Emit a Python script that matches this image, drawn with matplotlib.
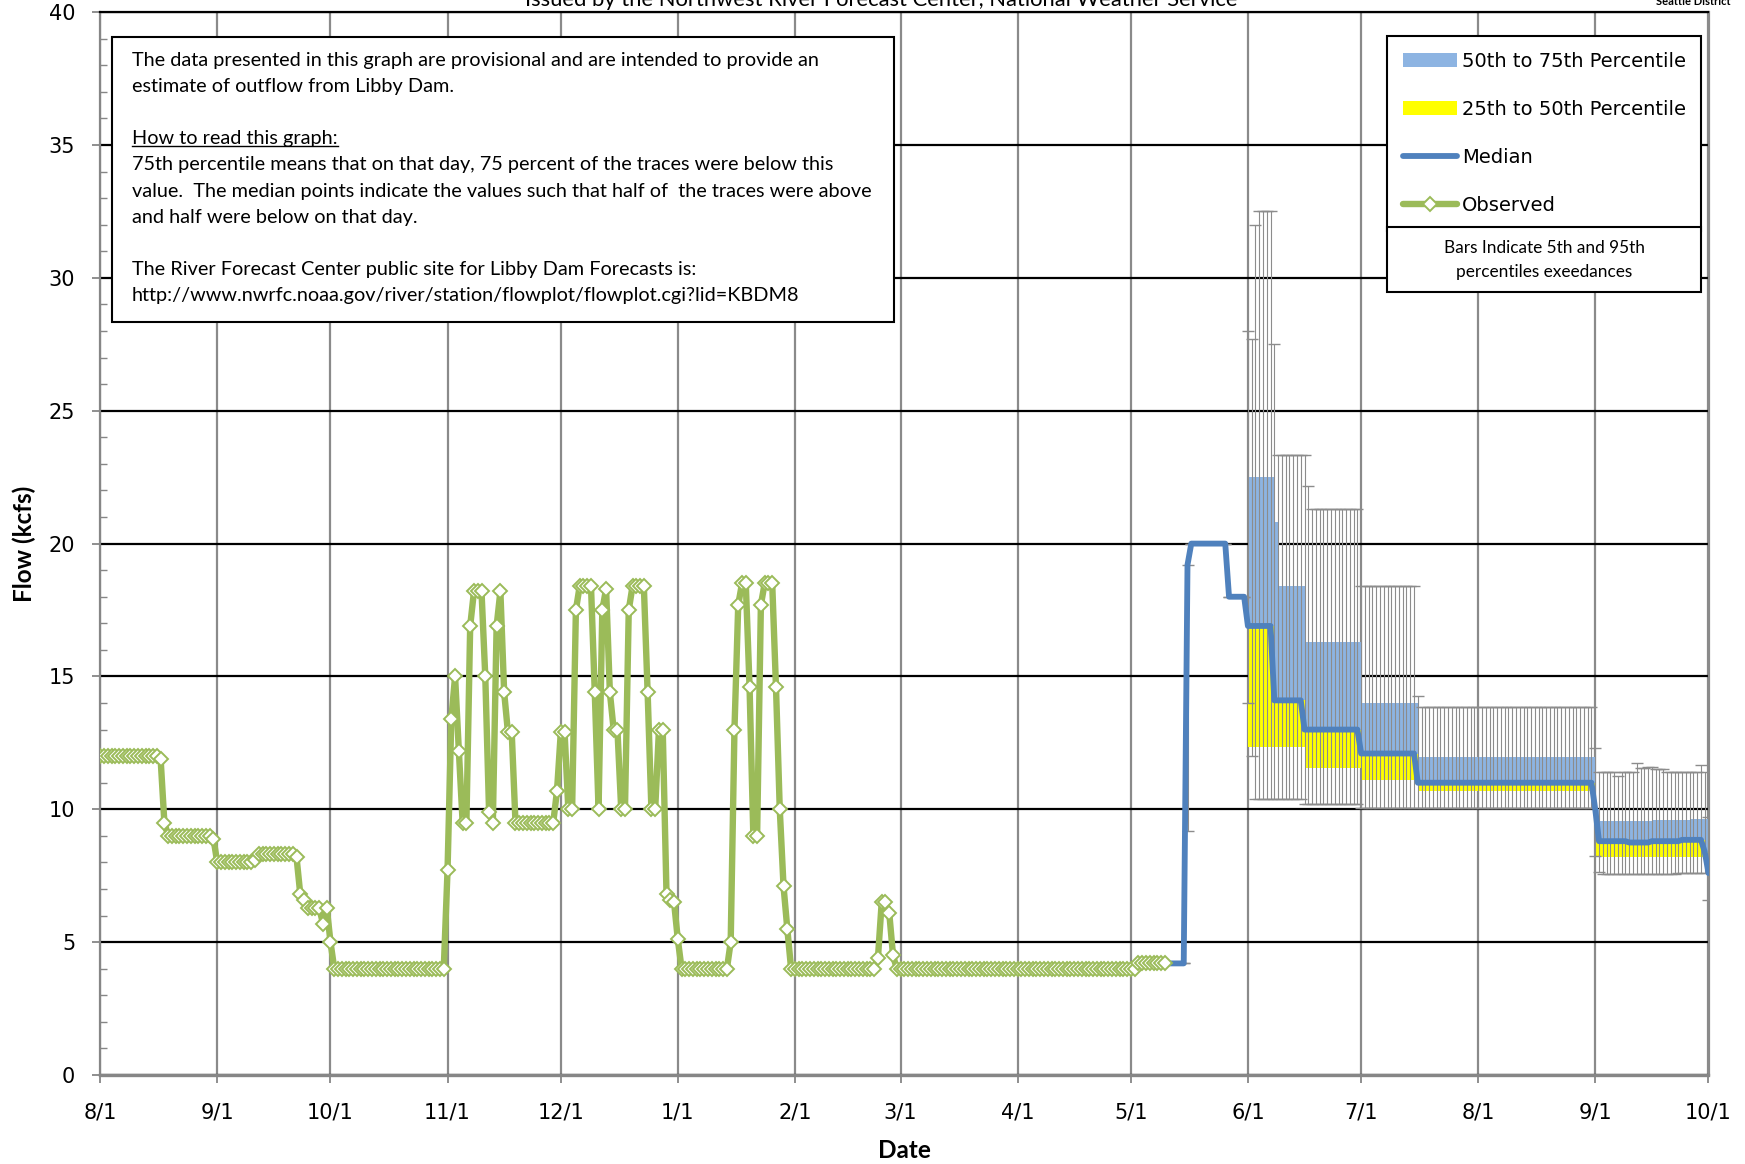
import numpy as np
import pandas as pd
import matplotlib
matplotlib.use('Agg')
import matplotlib.pyplot as plt
from matplotlib.patches import Rectangle, Patch
from matplotlib.lines import Line2D

# Observed daily outflow (kcfs), one value per day from 8/1
obs_start = '2012-08-01'
obs_flow = [
    12.0, 12.0, 12.0, 12.0, 12.0, 12.0, 12.0, 12.0, 12.0, 12.0,
    12.0, 12.0, 12.0, 12.0, 12.0, 12.0, 11.9, 9.5, 9.0, 9.0,
    9.0, 9.0, 9.0, 9.0, 9.0, 9.0, 9.0, 9.0, 9.0, 9.0,
    8.9, 8.0, 8.0, 8.0, 8.0, 8.0, 8.0, 8.0, 8.0, 8.0,
    8.0, 8.1, 8.3, 8.3, 8.3, 8.3, 8.3, 8.3, 8.3, 8.3,
    8.3, 8.3, 8.2, 6.8, 6.6, 6.3, 6.3, 6.3, 6.3, 5.7,
    6.3, 5.0, 4.0, 4.0, 4.0, 4.0, 4.0, 4.0, 4.0, 4.0,
    4.0, 4.0, 4.0, 4.0, 4.0, 4.0, 4.0, 4.0, 4.0, 4.0,
    4.0, 4.0, 4.0, 4.0, 4.0, 4.0, 4.0, 4.0, 4.0, 4.0,
    4.0, 4.0, 7.7, 13.4, 15.0, 12.2, 9.5, 9.5, 16.9, 18.2,
    18.2, 18.2, 15.0, 9.9, 9.5, 16.9, 18.2, 14.4, 12.9, 12.9,
    9.5, 9.5, 9.5, 9.5, 9.5, 9.5, 9.5, 9.5, 9.5, 9.5,
    9.5, 10.7, 12.9, 12.9, 10.0, 10.0, 17.5, 18.4, 18.4, 18.4,
    18.4, 14.4, 10.0, 17.5, 18.3, 14.4, 13.0, 13.0, 10.0, 10.0,
    17.5, 18.4, 18.4, 18.4, 18.4, 14.4, 10.0, 10.0, 13.0, 13.0,
    6.8, 6.6, 6.5, 5.1, 4.0, 4.0, 4.0, 4.0, 4.0, 4.0,
    4.0, 4.0, 4.0, 4.0, 4.0, 4.0, 4.0, 5.0, 13.0, 17.7,
    18.5, 18.5, 14.6, 9.0, 9.0, 17.7, 18.5, 18.5, 18.5, 14.6,
    10.0, 7.1, 5.5, 4.0, 4.0, 4.0, 4.0, 4.0, 4.0, 4.0,
    4.0, 4.0, 4.0, 4.0, 4.0, 4.0, 4.0, 4.0, 4.0, 4.0,
    4.0, 4.0, 4.0, 4.0, 4.0, 4.0, 4.4, 6.5, 6.5, 6.1,
    4.5, 4.0, 4.0, 4.0, 4.0, 4.0, 4.0, 4.0, 4.0, 4.0,
    4.0, 4.0, 4.0, 4.0, 4.0, 4.0, 4.0, 4.0, 4.0, 4.0,
    4.0, 4.0, 4.0, 4.0, 4.0, 4.0, 4.0, 4.0, 4.0, 4.0,
    4.0, 4.0, 4.0, 4.0, 4.0, 4.0, 4.0, 4.0, 4.0, 4.0,
    4.0, 4.0, 4.0, 4.0, 4.0, 4.0, 4.0, 4.0, 4.0, 4.0,
    4.0, 4.0, 4.0, 4.0, 4.0, 4.0, 4.0, 4.0, 4.0, 4.0,
    4.0, 4.0, 4.0, 4.0, 4.0, 4.2, 4.2, 4.2, 4.2, 4.2,
    4.2, 4.2, 4.2,
]

# Forecast percentiles, one value per day from 5/11 to 10/1
fc_start = '2013-05-11'
fc_p50 = [
    4.2, 4.2, 4.2, 4.2, 4.2, 19.2, 20.0, 20.0, 20.0, 20.0,
    20.0, 20.0, 20.0, 20.0, 20.0, 20.0, 18.0, 18.0, 18.0, 18.0,
    18.0, 16.9, 16.9, 16.9, 16.9, 16.9, 16.9, 16.9, 14.1, 14.1,
    14.1, 14.1, 14.1, 14.1, 14.1, 14.1, 13.0, 13.0, 13.0, 13.0,
    13.0, 13.0, 13.0, 13.0, 13.0, 13.0, 13.0, 13.0, 13.0, 13.0,
    13.0, 12.1, 12.1, 12.1, 12.1, 12.1, 12.1, 12.1, 12.1, 12.1,
    12.1, 12.1, 12.1, 12.1, 12.1, 12.1, 11.0, 11.0, 11.0, 11.0,
    11.0, 11.0, 11.0, 11.0, 11.0, 11.0, 11.0, 11.0, 11.0, 11.0,
    11.0, 11.0, 11.0, 11.0, 11.0, 11.0, 11.0, 11.0, 11.0, 11.0,
    11.0, 11.0, 11.0, 11.0, 11.0, 11.0, 11.0, 11.0, 11.0, 11.0,
    11.0, 11.0, 11.0, 11.0, 11.0, 11.0, 11.0, 11.0, 11.0, 11.0,
    11.0, 11.0, 11.0, 10.0, 8.8, 8.8, 8.8, 8.8, 8.8, 8.8,
    8.8, 8.8, 8.75, 8.75, 8.75, 8.75, 8.75, 8.75, 8.8, 8.8,
    8.8, 8.8, 8.8, 8.8, 8.8, 8.8, 8.85, 8.85, 8.85, 8.85,
    8.85, 8.85, 8.4, 7.6,
]
fc_p5 = [
    4.2, 4.2, 4.2, 4.2, 4.2, 9.2, 20.0, 20.0, 20.0, 20.0,
    20.0, 20.0, 20.0, 20.0, 20.0, 20.0, 18.0, 18.0, 18.0, 18.0,
    18.0, 14.0, 12.0, 10.4, 10.4, 10.4, 10.4, 10.4, 10.4, 10.4,
    10.4, 10.4, 10.4, 10.4, 10.4, 10.4, 10.2, 10.2, 10.2, 10.2,
    10.2, 10.2, 10.2, 10.2, 10.2, 10.2, 10.2, 10.2, 10.2, 10.2,
    10.2, 10.05, 10.05, 10.05, 10.05, 10.05, 10.05, 10.05, 10.05, 10.05,
    10.05, 10.05, 10.05, 10.05, 10.05, 10.05, 10.05, 10.05, 10.05, 10.05,
    10.05, 10.05, 10.05, 10.05, 10.05, 10.05, 10.05, 10.05, 10.05, 10.05,
    10.05, 10.05, 10.05, 10.05, 10.05, 10.05, 10.05, 10.05, 10.05, 10.05,
    10.05, 10.05, 10.05, 10.05, 10.05, 10.05, 10.05, 10.05, 10.05, 10.05,
    10.05, 10.05, 10.05, 10.05, 10.05, 10.05, 10.05, 10.05, 10.05, 10.05,
    10.05, 10.05, 10.05, 8.25, 7.65, 7.55, 7.55, 7.55, 7.55, 7.55,
    7.55, 7.55, 7.55, 7.55, 7.55, 7.55, 7.55, 7.55, 7.55, 7.55,
    7.55, 7.55, 7.55, 7.55, 7.55, 7.6, 7.6, 7.6, 7.6, 7.6,
    7.6, 7.6, 7.6, 6.6,
]
fc_p95 = [
    4.2, 4.2, 4.2, 4.2, 4.2, 19.2, 20.0, 20.0, 20.0, 20.0,
    20.0, 20.0, 20.0, 20.0, 20.0, 20.0, 18.0, 18.0, 18.0, 18.0,
    18.0, 28.0, 27.7, 32.0, 32.5, 32.5, 32.5, 32.5, 27.5, 23.35,
    23.35, 23.35, 23.35, 23.35, 23.35, 23.35, 23.35, 22.15, 21.3, 21.3,
    21.3, 21.3, 21.3, 21.3, 21.3, 21.3, 21.3, 21.3, 21.3, 21.3,
    21.3, 18.4, 18.4, 18.4, 18.4, 18.4, 18.4, 18.4, 18.4, 18.4,
    18.4, 18.4, 18.4, 18.4, 18.4, 18.4, 14.25, 13.85, 13.85, 13.85,
    13.85, 13.85, 13.85, 13.85, 13.85, 13.85, 13.85, 13.85, 13.85, 13.85,
    13.85, 13.85, 13.85, 13.85, 13.85, 13.85, 13.85, 13.85, 13.85, 13.85,
    13.85, 13.85, 13.85, 13.85, 13.85, 13.85, 13.85, 13.85, 13.85, 13.85,
    13.85, 13.85, 13.85, 13.85, 13.85, 13.85, 13.85, 13.85, 13.85, 13.85,
    13.85, 13.85, 13.85, 12.3, 11.4, 11.4, 11.4, 11.4, 11.4, 11.25,
    11.4, 11.4, 11.4, 11.4, 11.75, 11.55, 11.55, 11.6, 11.6, 11.5,
    11.5, 11.5, 11.4, 11.4, 11.4, 11.4, 11.4, 11.4, 11.4, 11.4,
    11.4, 11.65, 11.4, 9.7,
]

# 25th / 75th percentile band, one value per day from 6/1 to 10/1
band_start = '2013-06-01'
fc_p25 = [
    12.35, 12.35, 12.35, 12.35, 12.35, 12.35, 12.35, 12.35, 12.35, 12.35,
    12.35, 12.35, 12.35, 12.35, 12.35, 11.55, 11.55, 11.55, 11.55, 11.55,
    11.55, 11.55, 11.55, 11.55, 11.55, 11.55, 11.55, 11.55, 11.55, 11.55,
    11.1, 11.1, 11.1, 11.1, 11.1, 11.1, 11.1, 11.1, 11.1, 11.1,
    11.1, 11.1, 11.1, 11.1, 11.1, 10.7, 10.7, 10.7, 10.7, 10.7,
    10.7, 10.7, 10.7, 10.7, 10.7, 10.7, 10.7, 10.7, 10.7, 10.7,
    10.7, 10.7, 10.7, 10.7, 10.7, 10.7, 10.7, 10.7, 10.7, 10.7,
    10.7, 10.7, 10.7, 10.7, 10.7, 10.7, 10.7, 10.7, 10.7, 10.7,
    10.7, 10.7, 10.7, 10.7, 10.7, 10.7, 10.7, 10.7, 10.7, 10.7,
    10.7, 10.7, 8.2, 8.2, 8.2, 8.2, 8.2, 8.2, 8.2, 8.2,
    8.2, 8.2, 8.2, 8.2, 8.2, 8.2, 8.2, 8.2, 8.2, 8.2,
    8.2, 8.2, 8.2, 8.2, 8.2, 8.2, 8.2, 8.2, 8.2, 8.2,
    8.2, 8.2, 7.3,
]
fc_p75 = [
    22.5, 22.5, 22.5, 22.5, 22.5, 22.5, 22.5, 20.8, 18.4, 18.4,
    18.4, 18.4, 18.4, 18.4, 18.4, 16.3, 16.3, 16.3, 16.3, 16.3,
    16.3, 16.3, 16.3, 16.3, 16.3, 16.3, 16.3, 16.3, 16.3, 16.3,
    14.0, 14.0, 14.0, 14.0, 14.0, 14.0, 14.0, 14.0, 14.0, 14.0,
    14.0, 14.0, 14.0, 14.0, 14.0, 11.95, 11.95, 11.95, 11.95, 11.95,
    11.95, 11.95, 11.95, 11.95, 11.95, 11.95, 11.95, 11.95, 11.95, 11.95,
    11.95, 11.95, 11.95, 11.95, 11.95, 11.95, 11.95, 11.95, 11.95, 11.95,
    11.95, 11.95, 11.95, 11.95, 11.95, 11.95, 11.95, 11.95, 11.95, 11.95,
    11.95, 11.95, 11.95, 11.95, 11.95, 11.95, 11.95, 11.95, 11.95, 11.95,
    11.95, 11.95, 9.55, 9.55, 9.55, 9.55, 9.55, 9.55, 9.55, 9.55,
    9.55, 9.55, 9.55, 9.55, 9.55, 9.55, 9.55, 9.6, 9.6, 9.6,
    9.6, 9.6, 9.6, 9.6, 9.6, 9.6, 9.6, 9.65, 9.65, 9.65,
    9.65, 9.65, 7.7,
]

tick_labels = ['8/1', '9/1', '10/1', '11/1', '12/1', '1/1', '2/1', '3/1',
               '4/1', '5/1', '6/1', '7/1', '8/1', '9/1', '10/1']

note_lines = [
    'The data presented in this graph are provisional and are intended to provide an',
    'estimate of outflow from Libby Dam.',
    '',
    'How to read this graph:',
    '75th percentile means that on that day, 75 percent of the traces were below this',
    'value.  The median points indicate the values such that half of  the traces were above',
    'and half were below on that day.',
    '',
    'The River Forecast Center public site for Libby Dam Forecasts is:',
    'http://www.nwrfc.noaa.gov/river/station/flowplot/flowplot.cgi?lid=KBDM8',
]

BLUE_FILL = '#8DB4E2'
YELLOW = '#FFFF00'
MEDIAN = '#4F81BD'
GREEN = '#9BBB59'
GRID_GRAY = '#8A8A8A'

W, H = 1745, 1164
fig = plt.figure(figsize=(W / 100, H / 100), dpi=100)
ax = fig.add_axes([100.2 / W, 1 - 1075 / H, (1708.5 - 100.2) / W, (1075 - 12.2) / H])

obs_dates = pd.date_range(obs_start, periods=len(obs_flow), freq='D')
fc_dates = pd.date_range(fc_start, periods=len(fc_p50), freq='D')
band_dates = pd.date_range(band_start, periods=len(fc_p25), freq='D')
month_ticks = pd.date_range('2012-08-01', periods=len(tick_labels), freq='MS')

p50 = np.array(fc_p50)
p50_band = p50[len(p50) - len(fc_p25):]

# percentile bands
ax.fill_between(band_dates, fc_p25, p50_band, step='post', color=YELLOW, lw=0, zorder=2)
ax.fill_between(band_dates, p50_band, fc_p75, step='post', color=BLUE_FILL, lw=0, zorder=2)

# 5th - 95th bars
err = [p50 - np.array(fc_p5), np.array(fc_p95) - p50]
eb = ax.errorbar(fc_dates, p50, yerr=err, fmt='none', ecolor='#8C8C8C',
                 elinewidth=0.8, capsize=4.3, capthick=1.0, zorder=3)
for cap in eb[1]:
    cap.set_color('#3F3F3F')

ax.plot(fc_dates, fc_p50, color=MEDIAN, lw=4.2, solid_joinstyle='round',
        solid_capstyle='round', zorder=4)
ax.plot(obs_dates, obs_flow, color=GREEN, lw=4.6, marker='D', ms=7.5,
        mfc='white', mec=GREEN, mew=1.4, zorder=5)

# axes, grid
ax.set_xlim(month_ticks[0], month_ticks[-1])
ax.set_ylim(0, 40)
ax.set_xticks(month_ticks)
ax.set_xticklabels(tick_labels)
ax.set_yticks(range(0, 41, 5))
ax.set_yticks(range(0, 41), minor=True)
ax.yaxis.grid(True, which='major', color='black', lw=1.6, zorder=1)
ax.xaxis.grid(True, which='major', color=GRID_GRAY, lw=1.6, zorder=1)
ax.set_axisbelow(True)

ax.spines['top'].set_color('black')
ax.spines['top'].set_linewidth(1.6)
ax.spines['right'].set_color(GRID_GRAY)
ax.spines['right'].set_linewidth(1.6)
ax.spines['left'].set_color('#868686')
ax.spines['left'].set_linewidth(1.6)
ax.spines['bottom'].set_color('#868686')
ax.spines['bottom'].set_linewidth(2.4)

ax.tick_params(axis='y', which='major', direction='out', length=6, width=1.3,
               color='#868686', labelsize=15, pad=12)
ax.tick_params(axis='y', which='minor', direction='in', length=5, width=1.0,
               color='#868686')
ax.tick_params(axis='x', which='major', direction='out', length=6, width=1.3,
               color='#868686', labelsize=15, pad=14)
for lab in ax.get_xticklabels() + ax.get_yticklabels():
    lab.set_family('DejaVu Sans')

ax.set_ylabel('Flow (kcfs)', fontsize=17.5, fontweight='bold', family='Lato', va='center')
ax.yaxis.set_label_coords((24.5 - 100.2) / 1608.3, 0.5)
ax.set_xlabel('Date', fontsize=17.5, fontweight='bold', family='Lato', va='center')
ax.xaxis.set_label_coords(0.5, (1075 - 1151) / 1062.8)

# header text, cut off by the top edge as in the original
fig.text(881 / W, 1 - 6 / H,
         'Issued by the Northwest River Forecast Center, National Weather Service',
         ha='center', va='baseline', fontsize=15.8, family='Lato')
fig.text(1731 / W, 1 - 5 / H, 'Seattle District', ha='right', va='baseline',
         fontsize=8, fontweight='bold', family='Lato')

# note box
fig.add_artist(Rectangle((112 / W, 1 - 322 / H), (894 - 112) / W, (322 - 37) / H,
                         transform=fig.transFigure, facecolor='white',
                         edgecolor='black', lw=1.5, zorder=6))
renderer = fig.canvas.get_renderer()
for i, line in enumerate(note_lines):
    if not line:
        continue
    t = fig.text(132 / W, 1 - (59 + i * 26.1) / H, line, ha='left',
                 va='center_baseline', fontsize=14.3, family='Lato', zorder=7)
    if line.startswith('How to read'):
        bb = t.get_window_extent(renderer=renderer)
        (x0, y0), (x1, _) = fig.transFigure.inverted().transform([[bb.x0, bb.y0], [bb.x1, bb.y1]])
        fig.add_artist(Line2D([x0, x1], [y0 + 1 / H, y0 + 1 / H], transform=fig.transFigure,
                              color='black', lw=1.0, zorder=7))

# legend
handles = [
    Patch(facecolor=BLUE_FILL, edgecolor='none', label='50th to 75th Percentile'),
    Patch(facecolor=YELLOW, edgecolor='none', label='25th to 50th Percentile'),
    Line2D([], [], color=MEDIAN, lw=4.2, solid_capstyle='round', label='Median'),
    Line2D([], [], color=GREEN, lw=4.6, solid_capstyle='round', marker='D', ms=7.5,
           mfc='white', mec=GREEN, mew=1.4, label='Observed'),
]
leg = ax.legend(handles=handles, loc='upper left', bbox_to_anchor=(1387 / W, 1 - 36 / H),
                bbox_transform=fig.transFigure, borderaxespad=0, frameon=True,
                fancybox=False, edgecolor='black', framealpha=1,
                prop={'family': 'DejaVu Sans', 'size': 14}, handlelength=2.8,
                handletextpad=0.25, labelspacing=1.5, borderpad=0.8)
leg.get_frame().set_linewidth(1.5)
leg.set_zorder(10)

# note under the legend (drawn over the legend's lower edge)
fig.add_artist(Rectangle((1387 / W, 1 - 292 / H), (1701 - 1387) / W, (292 - 227) / H,
                         transform=fig.transFigure, facecolor='white',
                         edgecolor='black', lw=1.5, zorder=11))
fig.text(1544 / W, 1 - 248 / H, 'Bars Indicate 5th and 95th', ha='center',
         va='center', fontsize=12.4, family='Lato', zorder=12)
fig.text(1544 / W, 1 - 271.5 / H, 'percentiles exeedances', ha='center',
         va='center', fontsize=12.4, family='Lato', zorder=12)

fig.savefig('out.png', dpi=100)
